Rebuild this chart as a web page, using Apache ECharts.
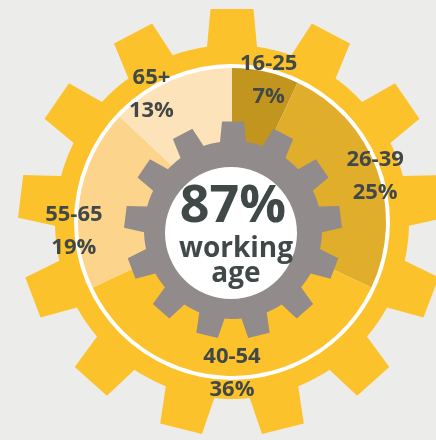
<!DOCTYPE html>
<html><head><meta charset="utf-8">
<script src="https://cdn.jsdelivr.net/npm/echarts@6/dist/echarts.min.js"></script>
<style>html,body{margin:0;padding:0;background:#ececea;}#c{width:436px;height:440px;}</style>
</head><body><div id="c"></div>
<script>
// ---- data ----
const categories = ['16-25', '26-39', '40-54', '55-65', '65+'];
const shares = [7, 25, 36, 19, 13];
const workingAgeGroups = ['16-25', '26-39', '40-54', '55-65'];
const centerWords = ['working', 'age'];

// ---- styles ----
const sliceColors = ['#c2951f', '#e0ae2b', '#fcc22c', '#fdd48c', '#fde3b9'];
const labelOffsets = [[4, 5], [2, 5], [0, 1], [-10, 33], [-21, 10]];
const textColor = '#414848';
const FONT = '"Open Sans", Lato, sans-serif';

const workingShare = categories.reduce((s, c, i) => s + (workingAgeGroups.includes(c) ? shares[i] : 0), 0);

function gearPoints(cx, cy, n, rRoot, rTip, halfRoot, halfTip, steps) {
  const pts = [];
  const step = 2 * Math.PI / n;
  const aR = Math.asin(halfRoot / rRoot), aT = Math.asin(halfTip / rTip);
  const P = (a, r) => [cx + r * Math.sin(a), cy - r * Math.cos(a)];
  for (let i = 0; i < n; i++) {
    const a = i * step;
    pts.push(P(a - aR, rRoot), P(a - aT, rTip), P(a + aT, rTip), P(a + aR, rRoot));
    const s = a + aR, e = a + step - aR;
    for (let k = 1; k < steps; k++) pts.push(P(s + (e - s) * k / steps, rRoot));
  }
  return pts;
}

const chart = echarts.init(document.getElementById('c'), null, { renderer: 'canvas' });
const pieCenter = [232, 222];
const gearCenter = [233, 230];

chart.setOption({
  backgroundColor: '#ececea',
  animation: false,
  graphic: [
    { type: 'polygon', z: 0, silent: true,
      shape: { points: gearPoints(pieCenter[0], pieCenter[1], 13, 177, 214, 25, 21.5, 8) },
      style: { fill: '#fcc22b' } },
    { type: 'circle', z: 1, silent: true,
      shape: { cx: pieCenter[0], cy: pieCenter[1], r: 158 }, style: { fill: '#ffffff' } },
    { type: 'polygon', z: 10, silent: true,
      shape: { points: gearPoints(gearCenter[0], gearCenter[1], 13, 89, 109, 13, 11, 6) },
      style: { fill: '#918b8b' } },
    { type: 'circle', z: 11, silent: true,
      shape: { cx: 231, cy: 233, r: 66 }, style: { fill: '#ffffff' } },
    { type: 'text', z: 12, silent: true, x: 233, y: 207,
      style: { text: workingShare + '%', font: 'bold 52px ' + FONT, fill: textColor,
               align: 'center', verticalAlign: 'middle', textAlign: 'center', textVerticalAlign: 'middle' } },
    { type: 'text', z: 12, silent: true, x: 236, y: 249,
      style: { text: centerWords[0], font: 'bold 28px ' + FONT, fill: textColor,
               align: 'center', verticalAlign: 'middle', textAlign: 'center', textVerticalAlign: 'middle' } },
    { type: 'text', z: 12, silent: true, x: 236, y: 274,
      style: { text: centerWords[1], font: 'bold 28px ' + FONT, fill: textColor,
               align: 'center', verticalAlign: 'middle', textAlign: 'center', textVerticalAlign: 'middle' } }
  ],
  series: [
    {
      type: 'pie', z: 2, silent: true, center: pieCenter, radius: [0, 154],
      startAngle: 90, clockwise: true,
      label: { show: false }, labelLine: { show: false },
      data: categories.map((c, i) => ({ name: c, value: shares[i], itemStyle: { color: sliceColors[i] } }))
    },
    {
      type: 'pie', z: 20, silent: true, center: pieCenter, radius: [0, 294],
      startAngle: 90, clockwise: true,
      itemStyle: { color: 'rgba(0,0,0,0)' },
      label: { show: true, position: 'inside', formatter: '{b}\n{c}%', color: textColor,
               fontFamily: FONT, fontWeight: 'bold', fontSize: 22, lineHeight: 33 },
      labelLine: { show: false },
      data: categories.map((c, i) => ({ name: c, value: shares[i], label: { offset: labelOffsets[i] } }))
    }
  ]
});
</script></body></html>
